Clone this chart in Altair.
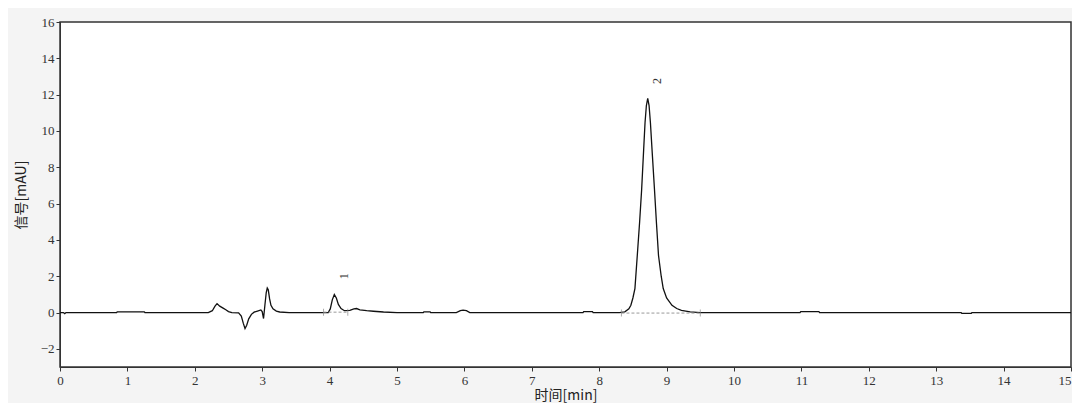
import altair as alt
import pandas as pd

# chromatogram trace (time in min, signal in mAU)
trace_t = [0.0, 0.05, 0.07, 0.09, 0.84, 0.85, 1.25, 1.26, 2.20, 2.26, 2.30, 2.33, 2.37, 2.42, 2.46, 2.50,
           2.55, 2.65, 2.69, 2.72, 2.745, 2.77, 2.80, 2.84, 2.88, 2.93, 2.98, 3.00, 3.02, 3.04,
           3.06, 3.075, 3.09, 3.11, 3.13, 3.16, 3.21, 3.26, 3.40, 3.98, 4.01, 4.04, 4.07, 4.10,
           4.13, 4.17, 4.22, 4.30, 4.36, 4.40, 4.45, 4.55, 4.65, 4.80, 5.00, 5.39, 5.40, 5.49,
           5.50, 5.88, 5.94, 5.98, 6.03, 6.08, 7.76, 7.77, 7.90, 7.91, 8.30, 8.38, 8.44, 8.47,
           8.50, 8.53, 8.565, 8.60, 8.63, 8.66, 8.68, 8.70, 8.72, 8.74, 8.76, 8.79, 8.82, 8.85,
           8.88, 8.92, 8.95, 9.00, 9.08, 9.15, 9.22, 9.35, 9.50, 10.98, 10.99, 11.26, 11.27,
           13.37, 13.38, 13.52, 13.53, 15.0]
trace_s = [0.0, 0.0, -0.06, 0.0, 0.0, 0.04, 0.04, 0.0, 0.0, 0.1, 0.35, 0.49, 0.35, 0.24, 0.15, 0.05,
           0.0, -0.02, -0.2, -0.6, -0.88, -0.7, -0.35, -0.1, 0.02, 0.08, 0.14, 0.05, -0.33, 0.4,
           1.1, 1.35, 1.25, 0.75, 0.4, 0.2, 0.08, 0.03, 0.0, 0.0, 0.2, 0.7, 0.99, 0.8,
           0.45, 0.22, 0.1, 0.12, 0.2, 0.22, 0.15, 0.1, 0.07, 0.03, 0.0, 0.0, 0.04, 0.04,
           0.0, 0.0, 0.1, 0.13, 0.1, 0.0, 0.0, 0.05, 0.05, 0.0, 0.0, 0.04, 0.2, 0.4,
           0.8, 1.32, 3.14, 5.0, 6.79, 9.0, 10.45, 11.4, 11.8, 11.4, 10.45, 8.6, 6.79, 4.9,
           3.14, 2.0, 1.32, 0.8, 0.4, 0.22, 0.12, 0.04, 0.0, 0.0, 0.05, 0.05, 0.0,
           0.0, -0.05, -0.05, 0.0, 0.0]

# integration baselines under peaks
base_start = [3.91, 8.33]
base_end = [4.27, 9.50]
base_level = [0.02, -0.03]

# peak labels
peak_names = ["1", "2"]
peak_t = [4.21, 8.86]
peak_s = [2.0, 12.75]

x_ticks = list(range(0, 16))
y_ticks = list(range(-2, 17, 2))

trace = pd.DataFrame({"t": trace_t, "s": trace_s})
bases = pd.DataFrame({"t0": base_start, "t1": base_end, "s": base_level})
ends = pd.DataFrame({"t": base_start + base_end, "s": base_level + base_level})
labels = pd.DataFrame({"name": peak_names, "t": peak_t, "s": peak_s})

xs = alt.Scale(domain=[0, 15], nice=False, zero=False)
ys = alt.Scale(domain=[-3, 16], nice=False, zero=False)

x_axis = alt.Axis(values=x_ticks, format="d", title="时间[min]", tickSize=4, labelPadding=3,
                  titlePadding=1, grid=False, labelOverlap=False, labelFlush=False,
                  labelAlign={"condition": {"test": "datum.value >= 15", "value": "right"},
                              "value": "center"})
y_axis = alt.Axis(values=y_ticks, format="d", title="信号[mAU]", tickSize=4, labelPadding=2,
                  titlePadding=12, grid=False, labelOverlap=False, labelFlush=False)

line = alt.Chart(trace).mark_line(color="#111111", strokeWidth=1.3).encode(
    x=alt.X("t:Q", scale=xs, axis=x_axis),
    y=alt.Y("s:Q", scale=ys, axis=y_axis),
    order="t:Q",
)

dashed = alt.Chart(bases).mark_rule(color="#999999", strokeDash=[3, 2], strokeWidth=1).encode(
    x=alt.X("t0:Q", axis=x_axis), x2="t1:Q", y=alt.Y("s:Q", axis=y_axis)
)

end_ticks = alt.Chart(ends).mark_tick(color="#888888", orient="vertical", size=7, thickness=1).encode(
    x=alt.X("t:Q", axis=x_axis), y=alt.Y("s:Q", axis=y_axis)
)

text = alt.Chart(labels).mark_text(angle=270, font="Liberation Serif", fontSize=12,
                                   color="#333333").encode(
    x=alt.X("t:Q", axis=x_axis), y=alt.Y("s:Q", axis=y_axis), text="name:N"
)

chart = alt.layer(line, dashed, end_ticks, text).resolve_axis(x="shared", y="shared").properties(
    width=1011, height=345,
    autosize=alt.AutoSizeParams(type="none"),
    padding={"left": 52, "top": 14, "right": 1, "bottom": 36},
    background="#f4f4f4",
).configure_view(
    stroke="#333333", strokeWidth=1.5, fill="white"
).configure_axis(
    domainColor="#333333", tickColor="#333333", labelColor="#333333",
    labelFont="Liberation Serif", labelFontSize=13, labelOverlap=False,
    titleFont="Noto Sans CJK SC", titleFontSize=14, titleFontWeight="normal",
    titleColor="#222222",
)

chart.save("out.html", embed_options={"renderer": "svg", "actions": False})
